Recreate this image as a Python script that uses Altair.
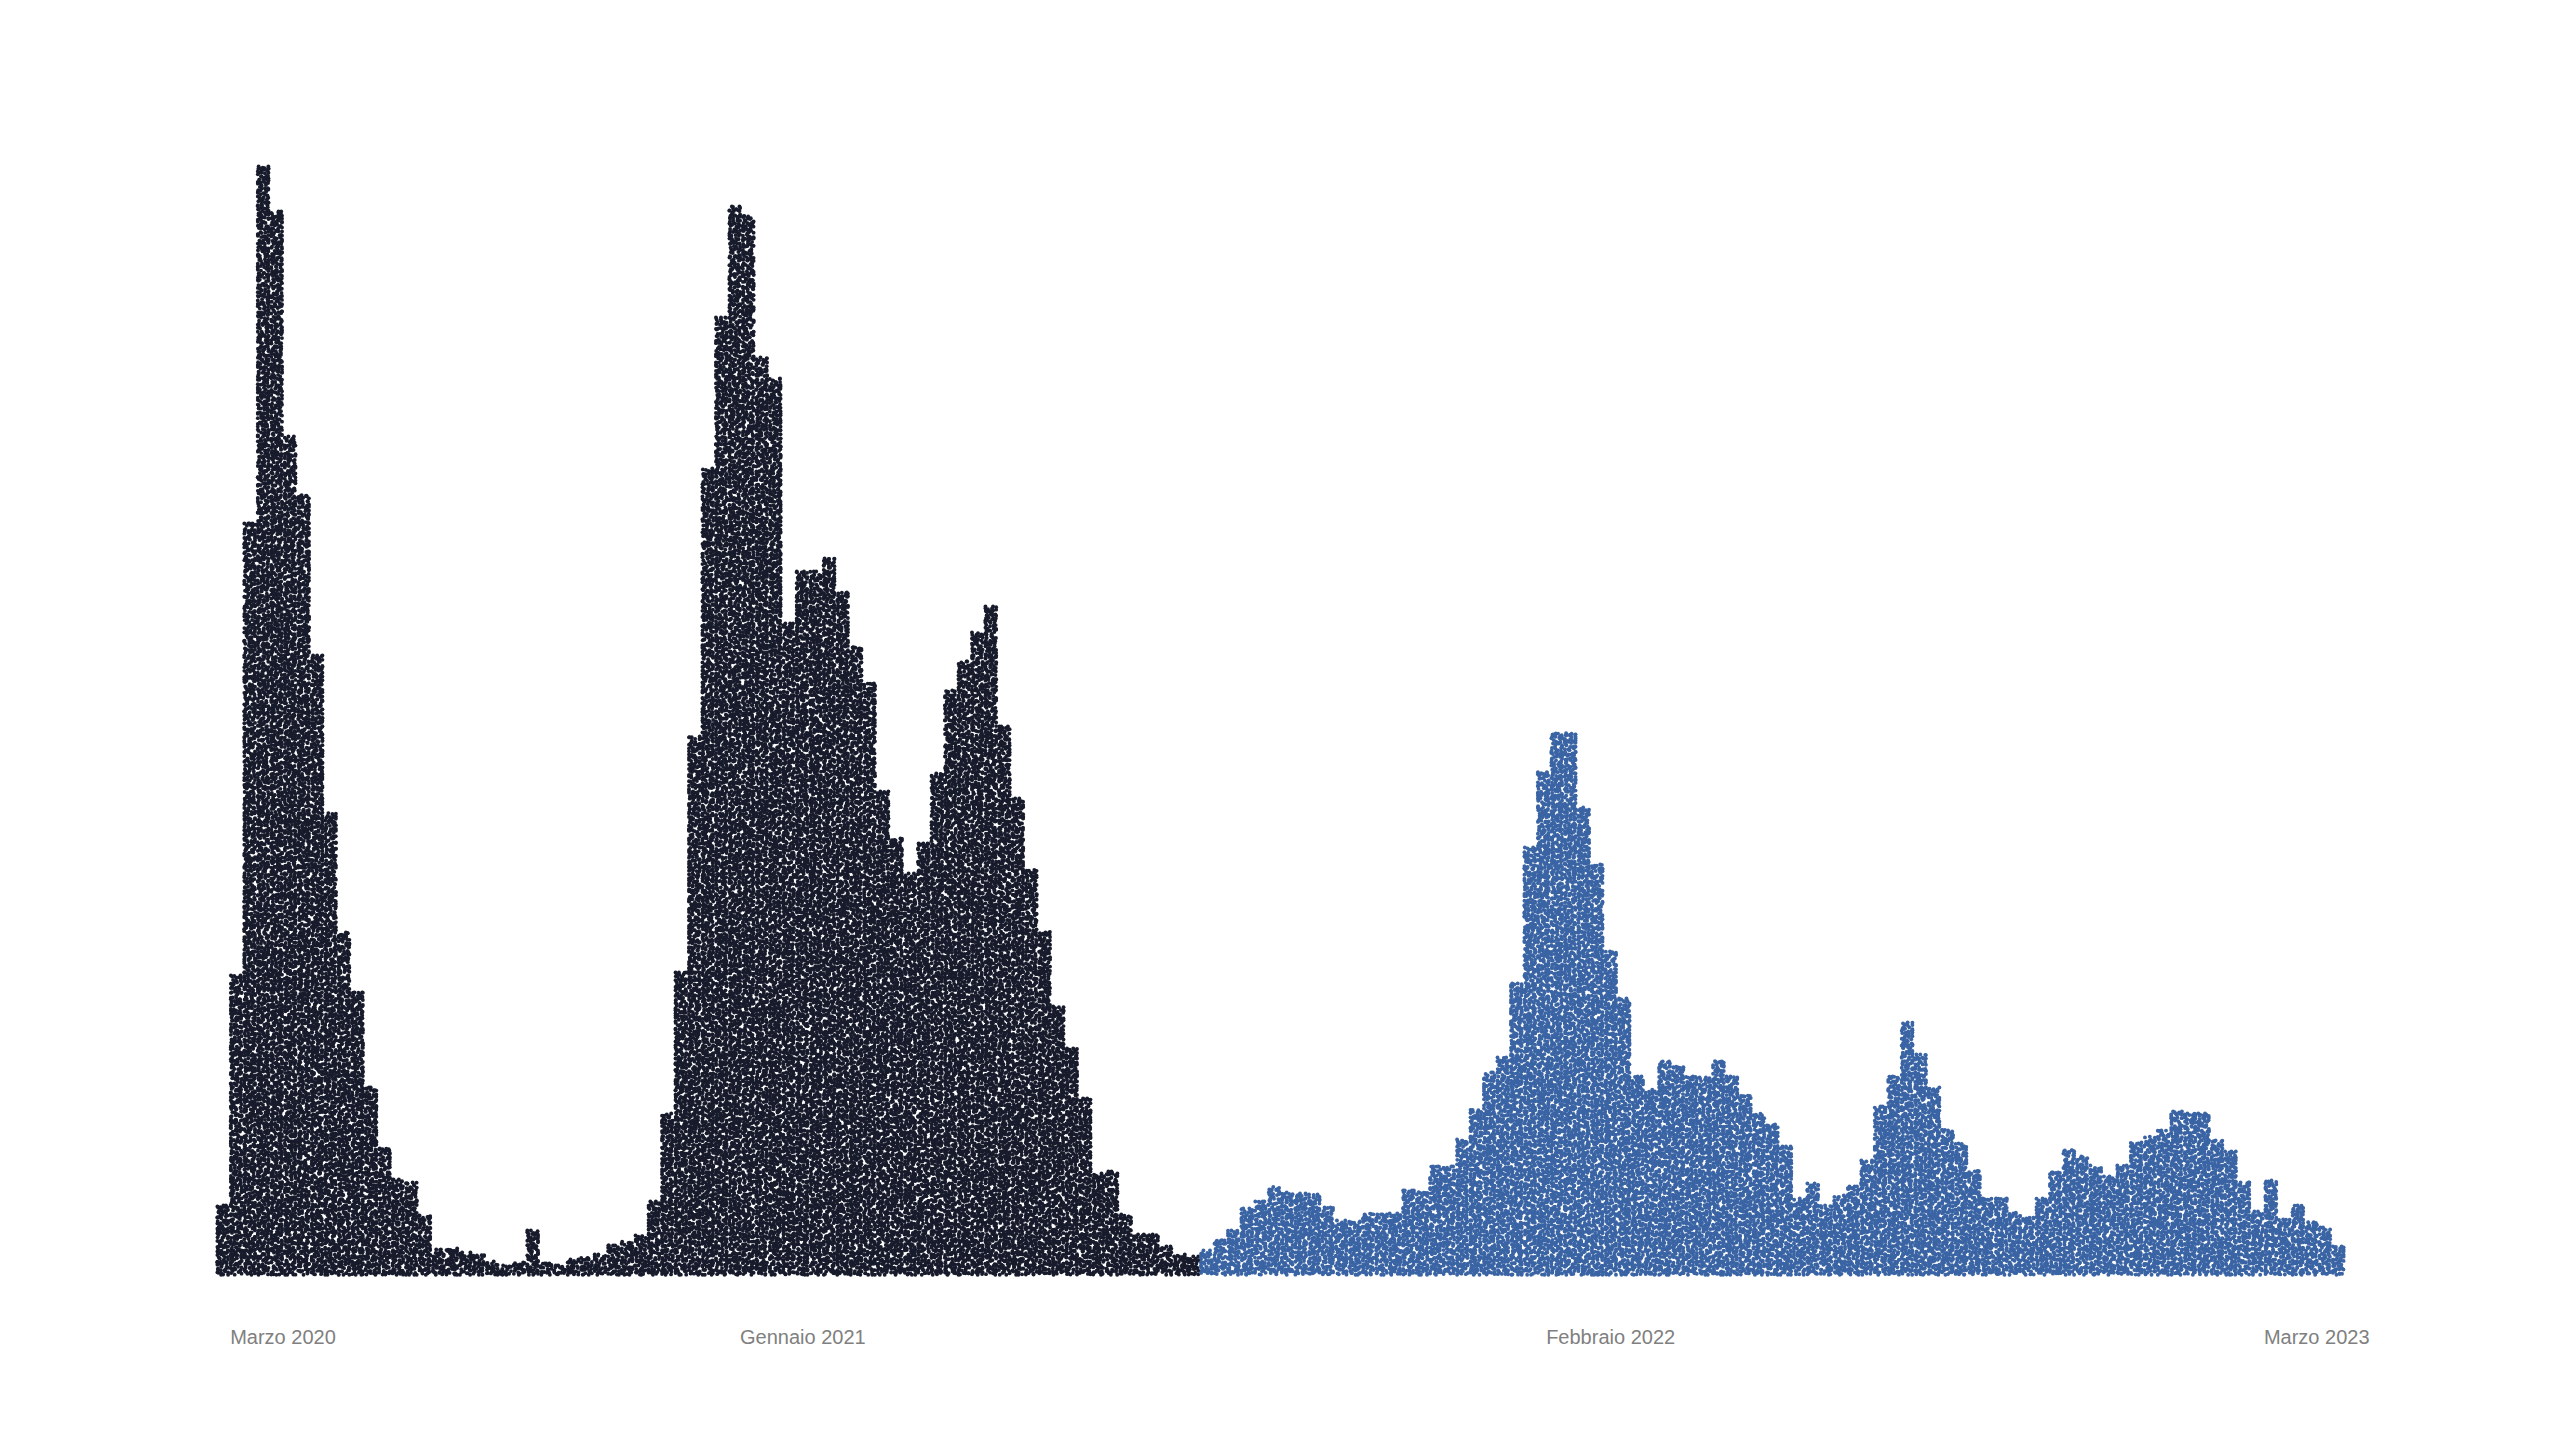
import altair as alt
import pandas as pd

alt.data_transformers.disable_max_rows()

# Weekly column heights (one value per week)
dark_heights = [69, 298, 750, 1107, 1062, 837, 779, 618, 461, 341, 281, 186, 125, 94, 91, 58,
                24, 25, 21, 20, 12, 8, 11, 43, 10, 8, 14, 16, 19, 28, 32, 38,
                72, 160, 301, 537, 805, 956, 1067, 1058, 916, 895, 650, 702, 702, 715, 681, 627,
                590, 482, 435, 400, 430, 500, 583, 612, 641, 667, 547, 475, 404, 342, 267, 225,
                175, 100, 102, 59, 39, 39, 27, 19, 17]
blue_heights = [23, 34, 43, 65, 72, 87, 81, 80, 79, 66, 53, 52, 60, 59, 60, 83,
                82, 107, 107, 134, 164, 201, 216, 290, 426, 502, 540, 541, 466, 409, 322, 275,
                197, 184, 212, 207, 197, 196, 213, 197, 178, 160, 149, 127, 75, 90, 68, 78,
                87, 113, 167, 198, 251, 219, 186, 144, 130, 103, 75, 75, 61, 56, 75, 101,
                124, 117, 108, 97, 108, 131, 137, 143, 162, 160, 160, 133, 122, 91, 62, 93,
                54, 68, 52, 46, 27]
label_positions = [4.97, 43.55, 103.5, 155.9]
label_texts = ["Marzo 2020", "Gennaio 2021", "Febbraio 2022", "Marzo 2023"]
group_names = ["dark", "blue"]
group_colors = ["#171b2b", "#3a64a4"]

heights = dark_heights + blue_heights
n_dark = len(dark_heights)
N_COL = len(heights)
COL_W = 13.46
SPAN = N_COL * COL_W
DENSITY = 0.135  # dots per square pixel
A1, A2 = 0.7548776662, 0.5698402910
B1, B2 = 0.41421356237, 0.73205080757

# Columns are filled with unit dots: an even scatter over a square, kept under each column's height.
rows = []
for i in range(1, int(DENSITY * SPAN * SPAN)):
    px = (i * A1) % 1 * SPAN
    col = int(px / COL_W)
    py = (i * A2) % 1 * SPAN
    h = heights[col] + 2
    if py >= h:
        continue
    jx = ((i * i * B1) % 1 - 0.5) * 3.2
    jy = ((i * i * B2) % 1 - 0.5) * 3.2
    left = col * COL_W + 1.4
    right = (col + 1) * COL_W - 1.4
    x = min(max(px + jx, left), right)
    y = min(max(py + jy, 0.2), max(h - 0.5, 0.2))
    rows.append({"x": x / COL_W, "y": y, "g": group_names[0] if col < n_dark else group_names[1]})
dots = pd.DataFrame(rows)

points = alt.Chart(dots).mark_circle(size=15, opacity=1).encode(
    x=alt.X("x:Q", scale=alt.Scale(domain=[0, N_COL], nice=False, zero=False), axis=None),
    y=alt.Y("y:Q", scale=alt.Scale(domain=[0, 1110], nice=False), axis=None),
    color=alt.Color("g:N", scale=alt.Scale(domain=group_names, range=group_colors), legend=None),
)

labels = alt.Chart(pd.DataFrame({"x": label_positions, "t": label_texts})).mark_text(
    font="Liberation Sans", fontSize=20, color="#808080", baseline="middle", align="center"
).encode(x=alt.X("x:Q"), y=alt.value(1172.5), text="t:N")

chart = (points + labels).properties(
    width=2129, height=1110,
    padding={"left": 207, "top": 156, "right": 20, "bottom": 20},
    background="white",
).configure_view(stroke=None)

chart.save("out.html", embed_options={"renderer": "svg", "actions": False})
